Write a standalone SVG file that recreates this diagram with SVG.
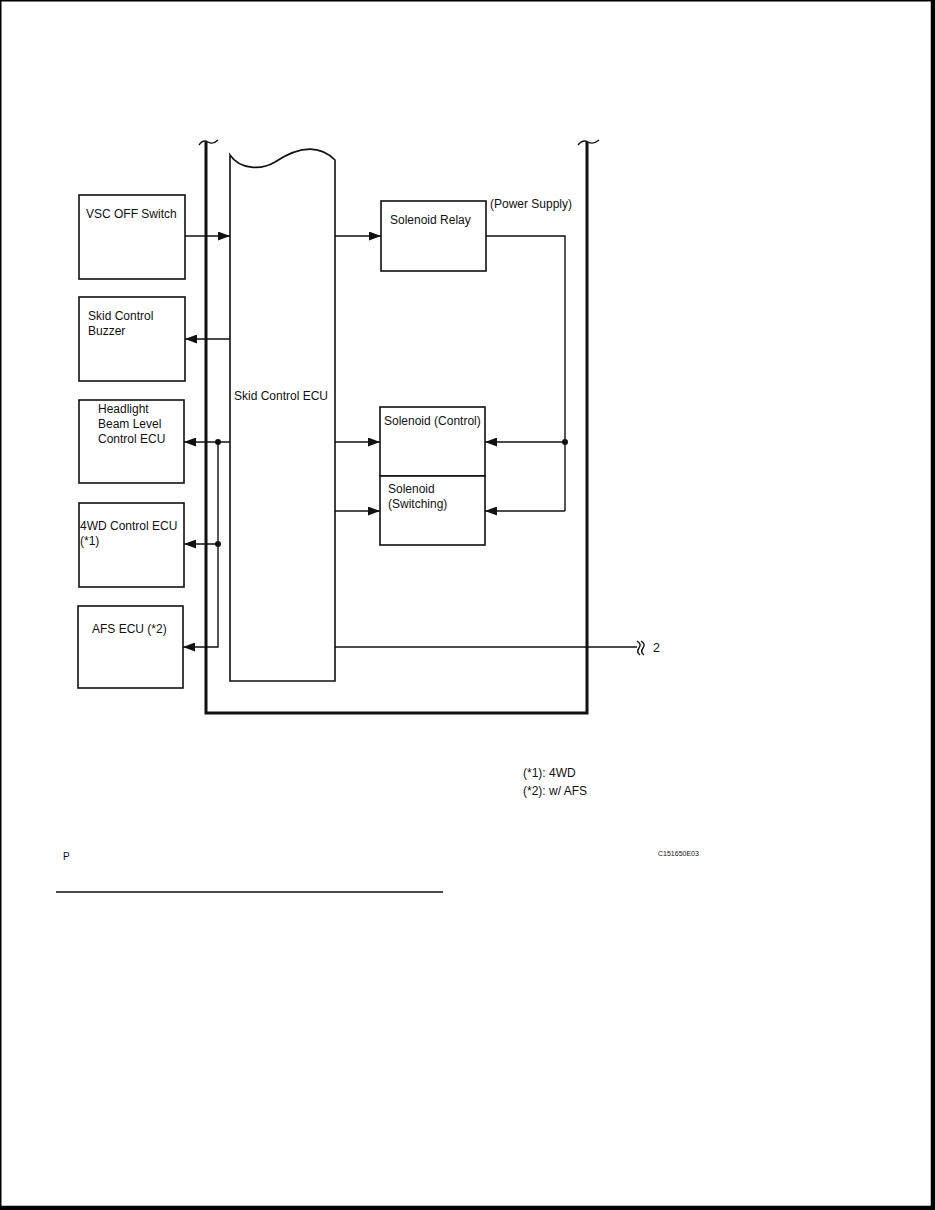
<svg xmlns="http://www.w3.org/2000/svg" width="935" height="1210" viewBox="0 0 935 1210">
<style>
.box{fill:#fff;stroke:#111;stroke-width:1.6}
.t{font-family:"Liberation Sans",Arial,sans-serif;font-size:12px;fill:#111}
.w{fill:none;stroke:#111;stroke-width:1.4}
.thick{fill:none;stroke:#111;stroke-width:3}
.dot{fill:#111}
</style>
<defs>
<marker id="ah" viewBox="0 0 12 9" refX="12" refY="4.5" markerWidth="12" markerHeight="9" markerUnits="userSpaceOnUse" orient="auto">
<path d="M0,0 L12,4.5 L0,9 Z" fill="#111"/>
</marker>
</defs>
<rect x="0" y="0" width="935" height="1210" fill="#fff"/>
<g id="page-border">
<path d="M0.75,0 V1210" stroke="#000" stroke-width="1.5"/>
<path d="M0,0.75 H935" stroke="#000" stroke-width="1.5"/>
<path d="M933,0 V1210" stroke="#000" stroke-width="4.5"/>
<path d="M0,1208 H935" stroke="#000" stroke-width="4.5"/>
</g>
<g id="frame">
<path class="thick" d="M206,142 V713 H587 V142"/>
<path class="w" d="M199,145 Q203,139 208,142 T218,140"/>
<path class="w" d="M578,145 Q583,139 588,142 T599,140"/>
</g>
<g id="connectors">
<path class="w" d="M185,236 H230" marker-end="url(#ah)"/>
<path class="w" d="M230,339 H185" marker-end="url(#ah)"/>
<path class="w" d="M230,442 H184" marker-end="url(#ah)"/>
<path class="w" d="M218,442 V647 H183" marker-end="url(#ah)"/>
<path class="w" d="M218,544 H184" marker-end="url(#ah)"/>
<circle class="dot" cx="218" cy="442" r="3"/>
<circle class="dot" cx="218" cy="544" r="3"/>
<path class="w" d="M335,236 H381" marker-end="url(#ah)"/>
<path class="w" d="M335,442 H380" marker-end="url(#ah)"/>
<path class="w" d="M335,511 H380" marker-end="url(#ah)"/>
<path class="w" d="M486,236 H565 V511"/>
<path class="w" d="M565,442 H485" marker-end="url(#ah)"/>
<path class="w" d="M565,511 H485" marker-end="url(#ah)"/>
<circle class="dot" cx="565" cy="442" r="3"/>
<path class="w" d="M335,647 H637"/>
<path class="w" d="M637,641 Q642,644 639,648 Q636,652 640,655"/>
<path class="w" d="M641,641 Q646,644 643,648 Q640,652 644,655"/>
</g>
<g id="skid-control-ecu">
<path class="box" d="M230,155 C240,170 262,170 275,162 C290,152 315,140 335,160 V681 H230 Z"/>
<text class="t" x="234" y="400">Skid Control ECU</text>
</g>
<g id="vsc-off-switch">
<rect class="box" x="79" y="195" width="106" height="84"/>
<text class="t" x="86" y="218">VSC OFF Switch</text>
</g>
<g id="skid-control-buzzer">
<rect class="box" x="79" y="297" width="106" height="84"/>
<text class="t" x="88" y="320">Skid Control</text>
<text class="t" x="88" y="335">Buzzer</text>
</g>
<g id="headlight-ecu">
<rect class="box" x="79" y="400" width="105" height="83"/>
<text class="t" x="98" y="413">Headlight</text>
<text class="t" x="98" y="428">Beam Level</text>
<text class="t" x="98" y="443">Control ECU</text>
</g>
<g id="4wd-control-ecu">
<rect class="box" x="79" y="503" width="105" height="84"/>
<text class="t" x="80" y="530">4WD Control ECU</text>
<text class="t" x="80" y="545">(*1)</text>
</g>
<g id="afs-ecu">
<rect class="box" x="78" y="606" width="105" height="82"/>
<text class="t" x="92" y="633">AFS ECU (*2)</text>
</g>
<g id="solenoid-relay">
<rect class="box" x="381" y="201" width="105" height="70"/>
<text class="t" x="390" y="224">Solenoid Relay</text>
<text class="t" x="490" y="208">(Power Supply)</text>
</g>
<g id="solenoid-control">
<rect class="box" x="380" y="407" width="105" height="69"/>
<text class="t" x="384" y="425">Solenoid (Control)</text>
</g>
<g id="solenoid-switching">
<rect class="box" x="380" y="476" width="105" height="69"/>
<text class="t" x="388" y="493">Solenoid</text>
<text class="t" x="388" y="508">(Switching)</text>
</g>
<g id="labels">
<text class="t" x="653" y="652" style="font-size:12.5px">2</text>
<text class="t" x="523" y="777">(*1): 4WD</text>
<text class="t" x="523" y="795">(*2): w/ AFS</text>
<text class="t" x="658" y="856" style="font-size:7px">C151650E03</text>
<text class="t" x="63" y="860" style="font-size:10px">P</text>
<path d="M56,892 H443" stroke="#111" stroke-width="1.6"/>
</g>
</svg>
